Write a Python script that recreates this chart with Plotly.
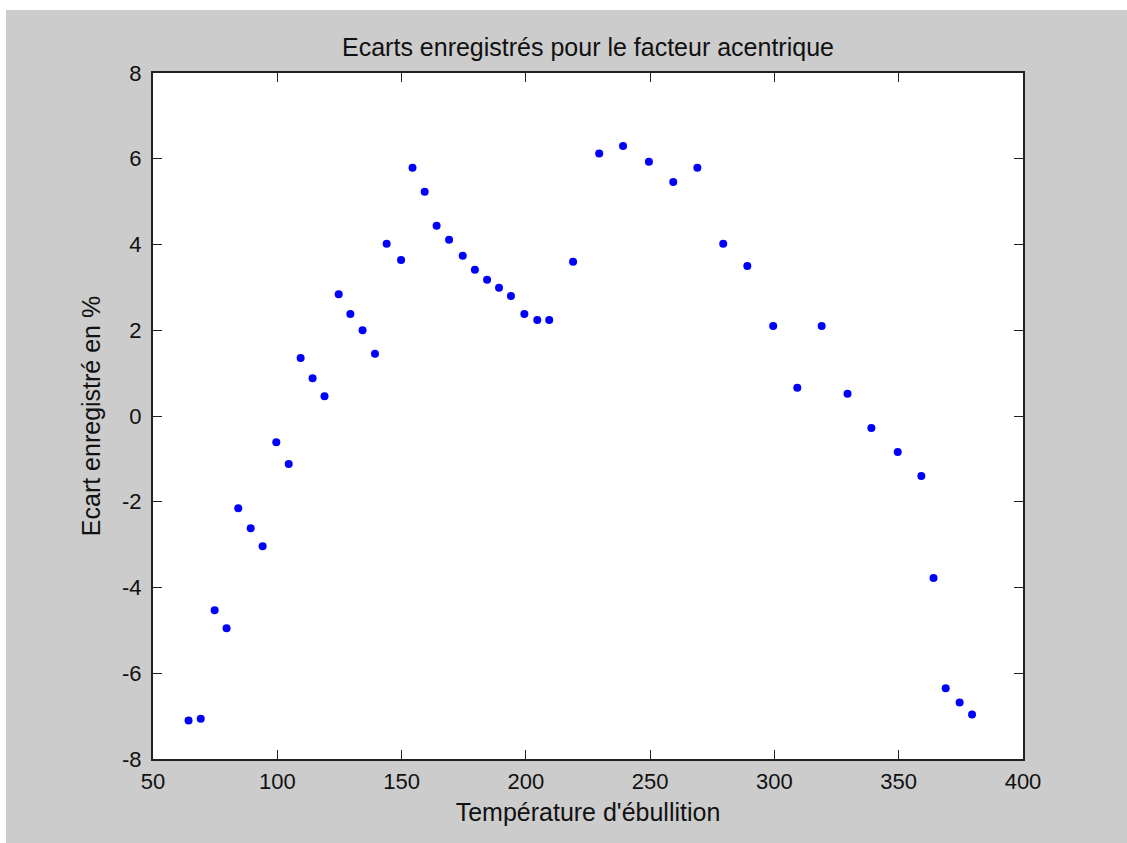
import plotly.graph_objects as go

temperature = [64.3, 69.2, 74.8, 79.6, 84.3, 89.3, 94.1, 99.6, 104.6, 109.4,
               114.2, 119.0, 124.7, 129.4, 134.3, 139.3, 144.0, 149.8, 154.4, 159.3,
               164.1, 169.1, 174.6, 179.5, 184.4, 189.2, 194.0, 199.4, 204.6, 209.4,
               219.0, 229.5, 239.1, 249.5, 259.3, 269.0, 279.4, 289.1, 299.5, 309.2,
               319.0, 329.4, 339.0, 349.6, 359.1, 364.0, 368.9, 374.5, 379.5]
ecart = [-7.10, -7.06, -4.53, -4.95, -2.15, -2.62, -3.04, -0.61, -1.12, 1.35,
         0.88, 0.46, 2.84, 2.38, 2.00, 1.45, 4.02, 3.64, 5.79, 5.23,
         4.44, 4.11, 3.74, 3.41, 3.18, 2.99, 2.80, 2.38, 2.24, 2.24,
         3.60, 6.12, 6.30, 5.93, 5.46, 5.79, 4.02, 3.50, 2.10, 0.66,
         2.10, 0.52, -0.28, -0.84, -1.40, -3.78, -6.35, -6.68, -6.96]

x_ticks = [50, 100, 150, 200, 250, 300, 350, 400]
y_ticks = [-8, -6, -4, -2, 0, 2, 4, 6, 8]

FONT = "Liberation Sans, Arial, sans-serif"

fig = go.Figure()
fig.add_trace(go.Scatter(
    x=temperature, y=ecart, mode="markers",
    marker=dict(color="#0000ff", size=8, symbol="circle", line=dict(width=0)),
    showlegend=False,
))

W, H = 1127, 843
L, R, T, B = 153, 104, 73, 84
pw, ph = W - L - R, H - T - B

# gray figure background (leaving the thin white border of the original)
fig.add_shape(type="rect", xref="paper", yref="paper",
              x0=(6 - L) / pw, x1=(W - L) / pw,
              y0=-B / ph, y1=(H - B - 10) / ph,
              fillcolor="#cccccc", line=dict(width=0), layer="below")
# white axes area
fig.add_shape(type="rect", xref="paper", yref="paper",
              x0=0, x1=1, y0=0, y1=1,
              fillcolor="white", line=dict(width=0), layer="below")

axis_common = dict(
    showgrid=False, zeroline=False, showline=True, linecolor="#222222", linewidth=2,
    mirror="ticks", ticks="inside", ticklen=9, tickwidth=1, tickcolor="#222222",
    tickfont=dict(family=FONT, size=22, color="#111111"),
)

fig.update_xaxes(range=[50, 400], tickvals=x_ticks, ticktext=[str(v) for v in x_ticks],
                 ticklabelstandoff=2,
                 title=dict(text="Température d'ébullition",
                            font=dict(family=FONT, size=25, color="#111111"), standoff=10),
                 **axis_common)
fig.update_yaxes(range=[-8, 8], tickvals=y_ticks, ticktext=[str(v) for v in y_ticks],
                 ticklabelstandoff=5,
                 title=dict(text="Ecart enregistré en %",
                            font=dict(family=FONT, size=25, color="#111111"), standoff=14),
                 **axis_common)

fig.update_layout(
    width=W, height=H,
    margin=dict(l=L, r=R, t=T, b=B, pad=0),
    paper_bgcolor="white", plot_bgcolor="rgba(0,0,0,0)",
    title=dict(text="Ecarts enregistrés pour le facteur acentrique",
               font=dict(family=FONT, size=25, color="#111111"),
               x=(L + pw / 2) / W, xanchor="center", y=1 - 47 / H, yanchor="middle"),
)

fig.write_html("out.html")
